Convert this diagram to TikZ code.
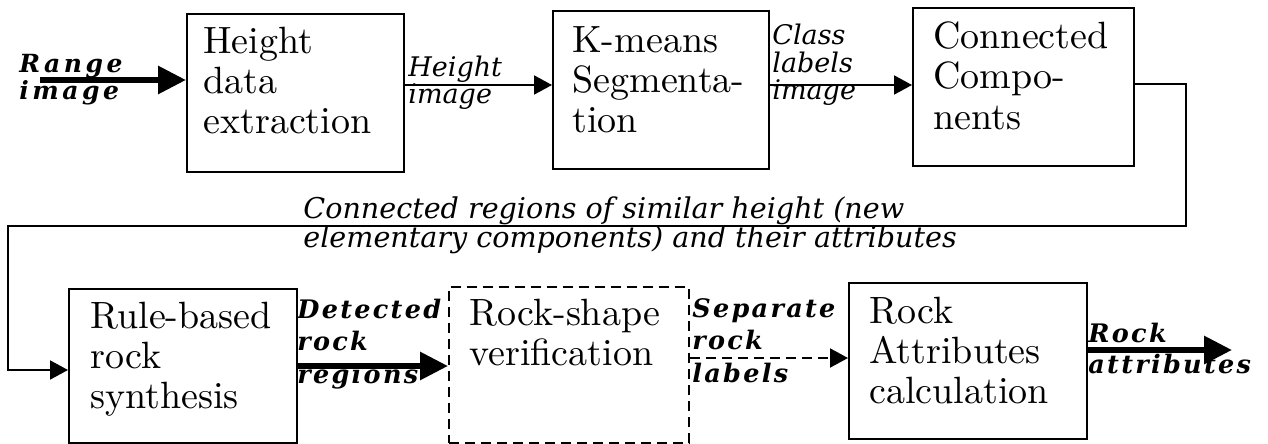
\documentclass[tikz,border=0pt]{standalone}
\usepackage{fontspec}
\newfontfamily\boxfont{lmroman10-regular}[Extension=.otf]
\newfontfamily\labfont{DejaVu Serif}
\newfontfamily\spfont[LetterSpace=9]{DejaVu Serif}
\newfontfamily\spwfont[LetterSpace=14]{DejaVu Serif}
\usetikzlibrary{arrows.meta}
\newcommand\lns[1]{\parbox[t]{400pt}{\raggedright #1}}
\begin{document}
\begin{tikzpicture}[x=0.5pt,y=-0.5pt,
 box/.style={draw,line width=1pt,inner sep=0pt,anchor=north west},
 dbox/.style={box,dash pattern=on 5pt off 3pt},
 boxtext/.style={inner sep=0pt,anchor=base west,font=\boxfont\fontsize{19}{20}\selectfont},
 lab/.style={inner sep=0pt,anchor=base west,font=\labfont\itshape\fontsize{13.5}{12}\selectfont},
 slab/.style={inner sep=0pt,anchor=base west,font=\spfont\bfseries\itshape\fontsize{12.75}{16.25}\selectfont},
 thinarrow/.style={line width=1pt,-{Triangle[length=9pt,width=9.5pt]}},
 thickarrow/.style={line width=3pt,-{Triangle[length=14pt,width=13.5pt]}},
]
\useasboundingbox (0,0) rectangle (1268,444);
% boxes
\node[box,minimum width=108.5pt,minimum height=79pt] (b1) at (186,13) {};
\node[box,minimum width=108pt,minimum height=79pt] (b2) at (552,10) {};
\node[box,minimum width=110.5pt,minimum height=79pt] (b3) at (912,7) {};
\node[box,minimum width=114pt,minimum height=77pt] (b4) at (68,288) {};
\node[dbox,minimum width=120pt,minimum height=78pt] (b5) at (448,286) {};
\node[box,minimum width=119pt,minimum height=78pt] (b6) at (848,282) {};
% box texts
\node[boxtext] (t1) at (203,54) {\lns{Height\\data\\extraction}};
\node[boxtext] (t2) at (572,53) {\lns{K-means\\Segmenta-\\tion}};
\node[boxtext] (t3) at (933,49) {\lns{Connected\\Compo-\\nents}};
\node[boxtext] (t4) at (90,328) {\lns{Rule-based\\rock\\synthesis}};
\node[boxtext] (t5) at (469,325) {\lns{Rock-shape\\verification}};
\node[boxtext] (t6) at (869,323) {\lns{Rock\\Attributes\\calculation}};
% labels
\node[slab,font=\spwfont\bfseries\itshape\fontsize{12.5}{12}\selectfont] (l1) at (19,73) {\lns{Range\\image}};
\node[lab] (l2) at (408,76) {\lns{Height\\image}};
\node[lab,font=\labfont\itshape\fontsize{13.5}{13.75}\selectfont] (l3) at (772,45) {\lns{Class\\labels\\image}};
\node[lab,font=\labfont\itshape\fontsize{14.3}{14.5}\selectfont] (l4) at (303,218) {\lns{Connected regions of similar height (new\\elementary components) and their attributes}};
\node[slab] (l5) at (297,318) {\lns{Detected\\rock\\regions}};
\node[slab] (l6) at (692,317) {\lns{Separate\\rock\\labels}};
\node[slab,font=\spfont\bfseries\itshape\fontsize{12.75}{15.5}\selectfont] (l7) at (1088,342) {\lns{Rock\\attributes}};
% connectors
\coordinate (in) at (40,80);
\coordinate (out) at (1232,350);
\coordinate (r) at (1186,226);
\coordinate (l) at (8,226);
\coordinate (s) at ([yshift=3.5pt]b5.east);
\draw[thickarrow] (in) -- (in -| b1.west);
\draw[thinarrow] ([yshift=4pt]b1.east) -- ([yshift=2.5pt]b2.west);
\draw[thinarrow] ([yshift=2.5pt]b2.east) -- ([yshift=1pt]b3.west);
\draw[thinarrow] ([yshift=1.5pt]b3.east) -| (r) -- (l) |- ([yshift=-2pt]b4.west);
\draw[thickarrow] (b4.east) -- (b4.east -| b5.west);
\draw[thinarrow,dash pattern=on 5pt off 3pt] (s) -- (s -| b6.west);
\draw[thickarrow] (b6.east |- out) -- (out);
\end{tikzpicture}
\end{document}
